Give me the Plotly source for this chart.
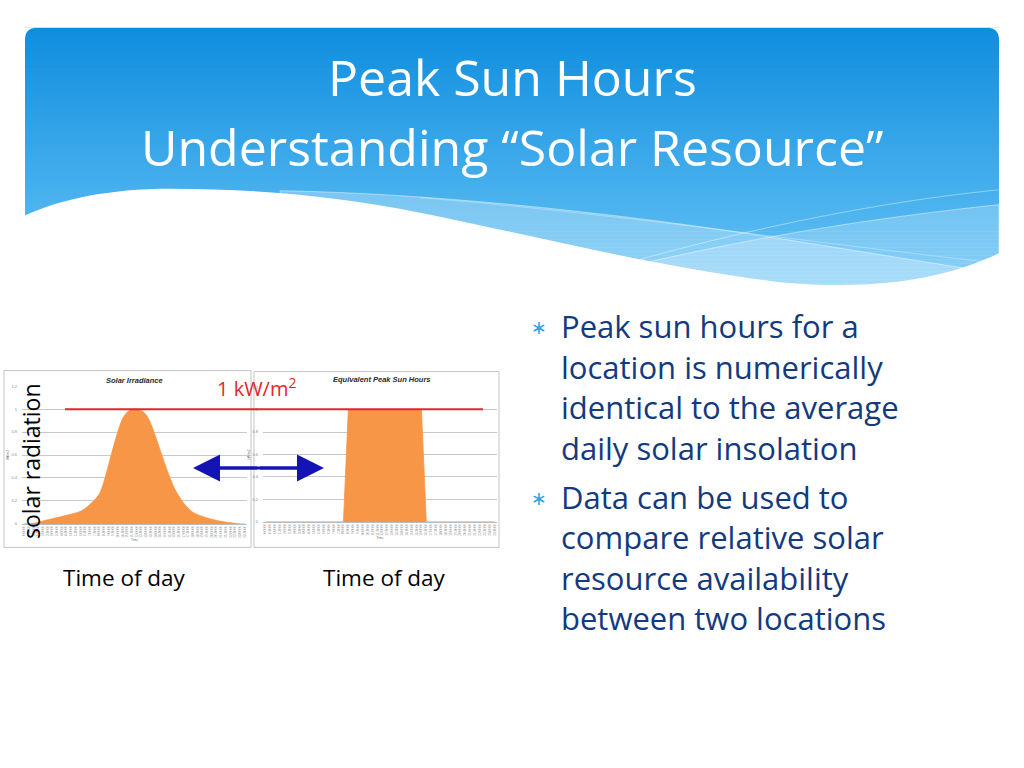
import plotly.graph_objects as go

# ---------------- data ----------------
TIMES = ["0:00:00", "0:30:00", "1:00:00", "1:30:00", "2:00:00", "2:30:00", "3:00:00", "3:30:00",
         "4:00:00", "4:30:00", "5:00:00", "5:30:00", "6:00:00", "6:30:00", "7:00:00", "7:30:00",
         "8:00:00", "8:30:00", "9:00:00", "9:30:00", "10:00:00", "10:30:00", "11:00:00", "11:30:00",
         "12:00:00", "12:30:00", "13:00:00", "13:30:00", "14:00:00", "14:30:00", "15:00:00", "15:30:00",
         "16:00:00", "16:30:00", "17:00:00", "17:30:00", "18:00:00", "18:30:00", "19:00:00", "19:30:00",
         "20:00:00", "20:30:00", "21:00:00", "21:30:00", "22:00:00", "22:30:00", "23:00:00", "23:30:00"]

IRRADIANCE = [0, 0, 0.005, 0.015, 0.025, 0.035, 0.045, 0.055,
              0.065, 0.075, 0.085, 0.095, 0.11, 0.135, 0.17, 0.21,
              0.26, 0.37, 0.52, 0.67, 0.81, 0.92, 0.975, 0.998,
              1.00, 0.985, 0.95, 0.87, 0.76, 0.64, 0.52, 0.41,
              0.31, 0.24, 0.18, 0.135, 0.10, 0.08, 0.065, 0.052,
              0.04, 0.03, 0.022, 0.015, 0.01, 0.005, 0, 0]

PEAK_SUN = [0, 0, 0, 0, 0, 0, 0, 0,
            0, 0, 0, 0, 0, 0, 0, 0,
            0, 1, 1, 1, 1, 1, 1, 1,
            1, 1, 1, 1, 1, 1, 1, 1,
            1, 0, 0, 0, 0, 0, 0, 0,
            0, 0, 0, 0, 0, 0, 0, 0]

Y_TICKS = [0, 0.2, 0.4, 0.6, 0.8, 1, 1.2]
Y_TICK_TEXT = ["0", "0.2", "0.4", "0.6", "0.8", "1", "1.2"]
CHART_TITLES = ["Solar Irradiance", "Equivalent Peak Sun Hours"]
REFERENCE_LEVEL = 1.0

TITLE_LINES = ["Peak Sun Hours", "Understanding \u201cSolar Resource\u201d"]
BULLETS = [
    ["Peak sun hours for a", "location is numerically", "identical to the average", "daily solar insolation"],
    ["Data can be used to", "compare relative solar", "resource availability", "between two locations"],
]

# ---------------- helpers (pixel -> paper) ----------------
W, H = 1024, 768


def X(px):
    return px / W


def Y(py):
    return 1 - py / H


def pt(x, y):
    return f"{X(x):.5f},{Y(y):.5f}"


FONT = "Open Sans"
ORANGE = "#F79646"
TEXT_BLUE = "#133A7E"

fig = go.Figure()

fig.add_trace(go.Scatter(
    x=TIMES, y=IRRADIANCE, mode="lines", fill="tozeroy",
    line=dict(color=ORANGE, width=0.8, shape="spline", smoothing=0.9),
    fillcolor=ORANGE, xaxis="x", yaxis="y", hoverinfo="skip", showlegend=False))

fig.add_trace(go.Scatter(
    x=TIMES, y=PEAK_SUN, mode="lines", fill="tozeroy",
    line=dict(color=ORANGE, width=0.8),
    fillcolor=ORANGE, xaxis="x2", yaxis="y2", hoverinfo="skip", showlegend=False))

xcommon = dict(type="category", range=[-0.5, len(TIMES) - 0.5], tickangle=-90,
               tickfont=dict(size=3, color="#888888", family="Liberation Sans"),
               showgrid=False, ticks="", showline=True, linecolor="#BBBBBB", linewidth=1,
               zeroline=False, fixedrange=True,
               title=dict(text="Time", font=dict(size=3, color="#555555"), standoff=2))
ycommon = dict(range=[0, 1.2], tickvals=Y_TICKS, ticktext=Y_TICK_TEXT,
               tickfont=dict(size=4, color="#888888", family="Liberation Sans"),
               showgrid=True, gridcolor="#C8C8C8", gridwidth=1, zeroline=False,
               ticks="", showline=False, fixedrange=True, ticklabelstandoff=4,
               title=dict(text="kW/m2", font=dict(size=3, color="#555555"), standoff=2))

fig.update_layout(
    width=W, height=H, margin=dict(l=0, r=0, t=0, b=0),
    paper_bgcolor="white", plot_bgcolor="rgba(0,0,0,0)", showlegend=False,
    xaxis=dict(domain=[X(22), X(247)], anchor="y", **xcommon),
    yaxis=dict(domain=[Y(524.3), Y(385.7)], anchor="x", **ycommon),
    xaxis2=dict(domain=[X(263), X(497)], anchor="y2", **xcommon),
    yaxis2=dict(domain=[Y(522.3), Y(386.7)], anchor="x2", **ycommon),
)

shapes = []

# ---------------- header gradient ----------------
top, bottom = 25, 290
c0 = (16, 142, 222)
c1 = (104, 196, 246)
n = 66
step = (bottom - top) / n
for k in range(n):
    t = k / (n - 1)
    col = tuple(round(c0[i] + (c1[i] - c0[i]) * t) for i in range(3))
    y0 = top + k * step
    shapes.append(dict(type="rect", xref="paper", yref="paper",
                       x0=X(25), x1=X(999), y0=Y(y0), y1=Y(y0 + step + 0.6),
                       fillcolor=f"rgb{col}", line=dict(width=0), layer="below"))

# lighter wave bands
bandA = (f"M {pt(280,189)} C {pt(400,191)} {pt(560,204)} {pt(747,232)} "
         f"C {pt(850,248)} {pt(930,262)} {pt(999,272)} L {pt(999,300)} L {pt(280,300)} Z")
shapes.append(dict(type="path", xref="paper", yref="paper", path=bandA,
                   fillcolor="rgba(255,255,255,0.28)", line=dict(color="rgba(255,255,255,0.45)", width=1),
                   layer="below"))
bandB = (f"M {pt(600,272)} C {pt(700,248)} {pt(820,222)} {pt(999,203)} "
         f"L {pt(999,300)} L {pt(600,300)} Z")
shapes.append(dict(type="path", xref="paper", yref="paper", path=bandB,
                   fillcolor="rgba(255,255,255,0.22)", line=dict(color="rgba(255,255,255,0.45)", width=1),
                   layer="below"))
# thin highlight lines
shapes.append(dict(type="path", xref="paper", yref="paper",
                   path=f"M {pt(640,258)} C {pt(760,225)} {pt(880,200)} {pt(999,188)}",
                   line=dict(color="rgba(255,255,255,0.4)", width=1), layer="below"))
shapes.append(dict(type="path", xref="paper", yref="paper",
                   path=f"M {pt(420,196)} C {pt(600,210)} {pt(800,240)} {pt(999,262)}",
                   line=dict(color="rgba(255,255,255,0.3)", width=1), layer="below"))

# white wave mask
mask = (f"M {pt(20,216)} C {pt(60,197)} {pt(110,187)} {pt(170,187)} "
        f"C {pt(260,187)} {pt(340,195)} {pt(420,211)} "
        f"C {pt(520,231)} {pt(650,265)} {pt(780,281)} "
        f"C {pt(880,290)} {pt(945,277)} {pt(999,252)} "
        f"L {pt(1010,252)} L {pt(1010,310)} L {pt(20,310)} Z")
shapes.append(dict(type="path", xref="paper", yref="paper", path=mask,
                   fillcolor="white", line=dict(width=0), layer="below"))

# rounded corners
shapes.append(dict(type="path", xref="paper", yref="paper",
                   path=f"M {pt(25,25)} L {pt(37,25)} Q {pt(25,25)} {pt(25,37)} Z",
                   fillcolor="white", line=dict(width=0), layer="below"))
shapes.append(dict(type="path", xref="paper", yref="paper",
                   path=f"M {pt(999,25)} L {pt(987,25)} Q {pt(999,25)} {pt(999,37)} Z",
                   fillcolor="white", line=dict(width=0), layer="below"))

# chart frames
shapes.append(dict(type="rect", xref="paper", yref="paper", x0=X(4), x1=X(251), y0=Y(548), y1=Y(370),
                   fillcolor="white", line=dict(color="#C4C4C4", width=1), layer="below"))
shapes.append(dict(type="rect", xref="paper", yref="paper", x0=X(254), x1=X(499), y0=Y(548), y1=Y(371),
                   fillcolor="white", line=dict(color="#C4C4C4", width=1), layer="below"))

# red 1 kW/m2 line (at y = REFERENCE_LEVEL on chart 1 scale)
y_ref_px = 524.3 - REFERENCE_LEVEL / 1.2 * (524.3 - 385.7)
shapes.append(dict(type="line", xref="paper", yref="paper", x0=X(65), x1=X(483),
                   y0=Y(y_ref_px), y1=Y(y_ref_px), line=dict(color="#E3262B", width=2), layer="above"))

# arrow shaft
ARROW_BLUE = "#1414B4"
shapes.append(dict(type="line", xref="paper", yref="paper", x0=X(200), x1=X(317),
                   y0=Y(468), y1=Y(468), line=dict(color=ARROW_BLUE, width=3), layer="above"))

fig.update_layout(shapes=shapes)

ann = []
# title
for txt, yy in zip(TITLE_LINES, (74, 145)):
    ann.append(dict(text=txt, x=0.5, y=Y(yy), xref="paper", yref="paper", showarrow=False,
                    xanchor="center", yanchor="middle", font=dict(family=FONT, size=50, color="white")))

# chart titles
ann.append(dict(text=f"<b><i>{CHART_TITLES[0]}</i></b>", x=X(134), y=Y(380), xref="paper", yref="paper",
                showarrow=False, xanchor="center", yanchor="middle",
                font=dict(family="Liberation Sans", size=7.5, color="#2A2A2A")))
ann.append(dict(text=f"<b><i>{CHART_TITLES[1]}</i></b>", x=X(382), y=Y(379), xref="paper", yref="paper",
                showarrow=False, xanchor="center", yanchor="middle",
                font=dict(family="Liberation Sans", size=7.5, color="#2A2A2A")))

# overlays
ann.append(dict(text="solar radiation", x=X(31), y=Y(461), xref="paper", yref="paper", showarrow=False,
                textangle=-90, xanchor="center", yanchor="middle",
                font=dict(family=FONT, size=23, color="black")))
ann.append(dict(text="1 kW/m<sup>2</sup>", x=X(256), y=Y(387), xref="paper", yref="paper", showarrow=False,
                xanchor="center", yanchor="middle", font=dict(family=FONT, size=20, color="#E3262B")))
ann.append(dict(text="Time of day", x=X(124), y=Y(578), xref="paper", yref="paper", showarrow=False,
                xanchor="center", yanchor="middle", font=dict(family=FONT, size=22.5, color="black")))
ann.append(dict(text="Time of day", x=X(384), y=Y(578), xref="paper", yref="paper", showarrow=False,
                xanchor="center", yanchor="middle", font=dict(family=FONT, size=22.5, color="black")))

# double arrow heads
mid = (193 + 324) / 2
for tip in (193, 324):
    ann.append(dict(text="", x=X(tip), y=Y(468), xref="paper", yref="paper", showarrow=True,
                    ax=mid - tip, ay=0, axref="pixel", ayref="pixel",
                    arrowhead=2, arrowsize=1.8, arrowwidth=3, arrowcolor=ARROW_BLUE, standoff=0))

# bullets
line_gap = 40.8
starts = [325.5, 497.0]
for b, lines in enumerate(BULLETS):
    y0 = starts[b]
    ann.append(dict(text="\u2217", x=X(539), y=Y(y0 + 1), xref="paper", yref="paper", showarrow=False,
                    xanchor="center", yanchor="middle", font=dict(family="DejaVu Sans", size=19, color="#2AA6E6")))
    for i, line in enumerate(lines):
        ann.append(dict(text=line, x=X(559), y=Y(y0 + i * line_gap), xref="paper", yref="paper",
                        showarrow=False, xanchor="left", yanchor="middle",
                        font=dict(family=FONT, size=31, color=TEXT_BLUE)))

fig.update_layout(annotations=ann)

fig.write_html("out.html", config={"displayModeBar": False},
               post_script="document.body.style.margin='0';document.body.style.padding='0';")
